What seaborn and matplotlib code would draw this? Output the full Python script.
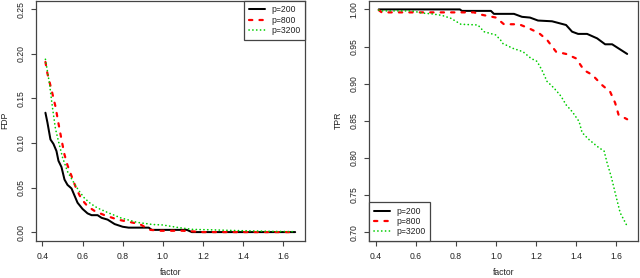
import numpy as np
import pandas as pd
import seaborn as sns
import matplotlib
matplotlib.use("Agg")
import matplotlib.pyplot as plt

# ---- data ----
# FDP panel
fdp_x_200 = [0.415, 0.425, 0.44, 0.455, 0.47, 0.48, 0.495, 0.51, 0.525, 0.545, 0.56, 0.575,
             0.60, 0.625, 0.645, 0.675, 0.695, 0.725, 0.76, 0.80, 0.83, 0.93, 0.945, 1.12, 1.145, 1.66]
fdp_y_200 = [0.134, 0.123, 0.104, 0.099, 0.091, 0.080, 0.073, 0.059, 0.053, 0.049, 0.041, 0.033,
             0.026, 0.021, 0.019, 0.019, 0.016, 0.014, 0.009, 0.006, 0.005, 0.005, 0.0025, 0.0025, 0.0, 0.0]

fdp_x_800 = [0.415, 0.425, 0.445, 0.465, 0.48, 0.495, 0.51, 0.525, 0.545, 0.57, 0.595, 0.625,
             0.665, 0.71, 0.775, 0.82, 0.885, 0.935, 0.985, 1.10, 1.15, 1.20, 1.66]
fdp_y_800 = [0.191, 0.178, 0.160, 0.141, 0.122, 0.104, 0.087, 0.075, 0.063, 0.048, 0.037, 0.029,
             0.023, 0.019, 0.014, 0.012, 0.009, 0.0026, 0.0015, 0.0015, 0.0008, 0.0, 0.0]

fdp_x_3200 = [0.415, 0.435, 0.45, 0.465, 0.48, 0.50, 0.525, 0.55, 0.58, 0.61, 0.64, 0.675,
              0.725, 0.79, 0.87, 0.95, 1.0, 1.08, 1.15, 1.25, 1.4, 1.55, 1.66]
fdp_y_3200 = [0.194, 0.167, 0.140, 0.116, 0.102, 0.084, 0.068, 0.058, 0.047, 0.038, 0.032, 0.027,
              0.022, 0.016, 0.011, 0.0085, 0.008, 0.005, 0.003, 0.0025, 0.0015, 0.0008, 0.0005]

# TPR panel
tpr_x_200 = [0.415, 0.82, 0.83, 0.975, 0.99, 1.09, 1.13, 1.17, 1.21, 1.28, 1.35, 1.38,
             1.41, 1.455, 1.505, 1.545, 1.58, 1.655]
tpr_y_200 = [1.0, 1.0, 0.998, 0.998, 0.994, 0.994, 0.990, 0.989, 0.985, 0.984, 0.979, 0.970,
             0.967, 0.967, 0.961, 0.953, 0.953, 0.940]

tpr_x_800 = [0.415, 0.43, 0.89, 0.925, 1.0, 1.04, 1.115, 1.165, 1.215, 1.255, 1.30, 1.35,
             1.40, 1.44, 1.48, 1.53, 1.57, 1.595, 1.612, 1.655]
tpr_y_800 = [0.999, 0.996, 0.996, 0.993, 0.989, 0.980, 0.980, 0.9745, 0.968, 0.959, 0.943, 0.940,
             0.934, 0.918, 0.912, 0.898, 0.889, 0.874, 0.858, 0.852]

tpr_x_3200 = [0.415, 0.43, 0.58, 0.635, 0.68, 0.73, 0.775, 0.825, 0.91, 0.94, 1.0, 1.025,
              1.035, 1.085, 1.135, 1.175, 1.205, 1.23, 1.255, 1.29, 1.325, 1.35, 1.38, 1.415,
              1.43, 1.465, 1.505, 1.54, 1.555, 1.575, 1.595, 1.62, 1.655]
tpr_y_3200 = [0.999, 0.998, 0.998, 0.995, 0.994, 0.992, 0.988, 0.980, 0.979, 0.970, 0.9655, 0.958,
              0.954, 0.9475, 0.943, 0.934, 0.930, 0.918, 0.903, 0.894, 0.883, 0.8715, 0.8625, 0.849,
              0.834, 0.8245, 0.8155, 0.809, 0.793, 0.775, 0.753, 0.726, 0.708]

labels = ["p=200", "p=800", "p=3200"]
x_ticks = [0.4, 0.6, 0.8, 1.0, 1.2, 1.4, 1.6]
fdp_ticks = [0.00, 0.05, 0.10, 0.15, 0.20, 0.25]
tpr_ticks = [0.70, 0.75, 0.80, 0.85, 0.90, 0.95, 1.00]

sns.set_theme(style="white")
plt.rcParams['font.family'] = ['Liberation Sans', 'DejaVu Sans']

# line look per series (R: solid black, dashed red, dotted green)
styles = {
    "p=200": dict(color="black", lw=1.45, ls="-"),
    "p=800": dict(color="#FF0000", lw=1.6, ls=(0, (1.5, 3.2))),
    "p=3200": dict(color="#00CD00", lw=1.2, ls=(0, (0.1, 2.2))),
}
fs = 6.2

fig = plt.figure(figsize=(6.4, 2.78), dpi=100)
ax1 = fig.add_axes([36 / 640, 37 / 278, 269 / 640, 240.5 / 278])
ax2 = fig.add_axes([369.3 / 640, 37 / 278, 268.7 / 640, 240.5 / 278])

fdp = [(fdp_x_200, fdp_y_200), (fdp_x_800, fdp_y_800), (fdp_x_3200, fdp_y_3200)]
tpr = [(tpr_x_200, tpr_y_200), (tpr_x_800, tpr_y_800), (tpr_x_3200, tpr_y_3200)]

for ax, series in [(ax1, fdp), (ax2, tpr)]:
    for lab, (xs, ys) in zip(labels, series):
        df = pd.DataFrame({"factor": xs, "value": ys})
        st = styles[lab]
        sns.lineplot(data=df, x="factor", y="value", ax=ax, label=lab, estimator=None,
                     sort=False, color=st["color"], linewidth=st["lw"], linestyle=st["ls"],
                     dash_capstyle="round", solid_joinstyle="round", solid_capstyle="round")

ax1.set_ylim(-0.01, 0.26)
ax2.set_ylim(0.688, 1.012)
ax1.set_yticks(fdp_ticks)
ax1.set_yticklabels([f"{t:.2f}" for t in fdp_ticks])
ax2.set_yticks(tpr_ticks)
ax2.set_yticklabels([f"{t:.2f}" for t in tpr_ticks])

for ax, ylab in [(ax1, "FDP"), (ax2, "TPR")]:
    ax.set_xlim(0.368, 1.709)
    ax.set_xticks(x_ticks)
    ax.set_xticklabels([f"{t:.1f}" for t in x_ticks])
    ax.tick_params(axis="both", direction="out", length=3.6, width=0.8, color="#444444",
                   labelsize=fs, labelcolor="#222222", bottom=True, left=True)
    ax.tick_params(axis="x", pad=4.6)
    ax.tick_params(axis="y", pad=4.0)
    for lbl in ax.get_yticklabels():
        lbl.set_rotation(90)
        lbl.set_va("center")
    for sp in ax.spines.values():
        sp.set_color("#444444")
        sp.set_linewidth(0.9)
    ax.set_xlabel("factor", fontsize=fs, color="#222222")
    ax.set_ylabel(ylab, fontsize=fs, color="#222222")
    ax.xaxis.set_label_coords(0.5, -0.112)
    ax.yaxis.set_label_coords(-0.1, 0.5)
    ax.grid(False)

leg_kw = dict(fontsize=fs, frameon=True, fancybox=False, borderaxespad=0, handlelength=1.9,
              handletextpad=0.7, labelspacing=0.15, borderpad=0.55, framealpha=1)
l1 = ax1.legend(loc="upper right", **leg_kw)
l2 = ax2.legend(loc="lower left", **leg_kw)
for lg in (l1, l2):
    lg.get_frame().set_edgecolor("#444444")
    lg.get_frame().set_linewidth(0.9)
    for t in lg.get_texts():
        t.set_color("#222222")

fig.savefig("out.png", dpi=100)
